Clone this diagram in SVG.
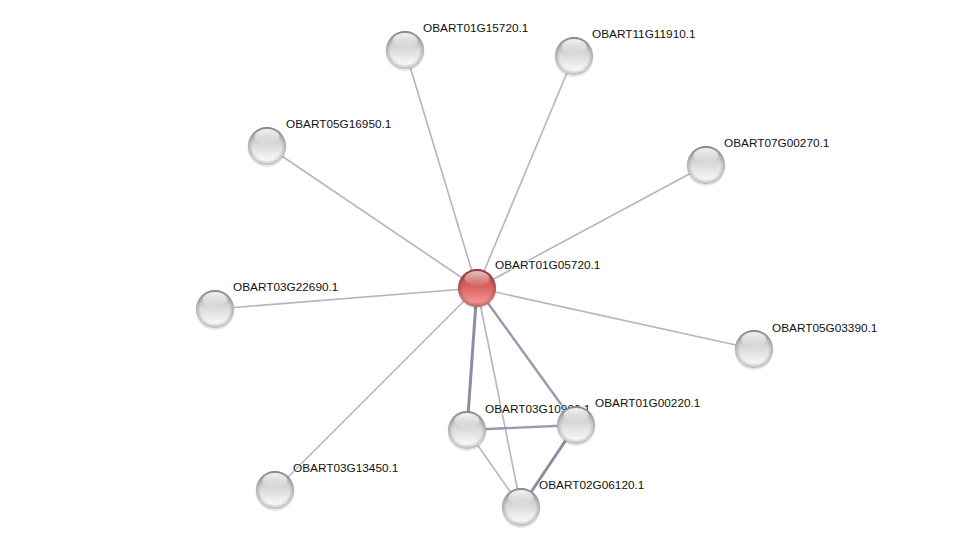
<svg xmlns="http://www.w3.org/2000/svg" width="976" height="552" viewBox="0 0 976 552">
<style>
.lbl{font-family:"Liberation Sans",Arial,sans-serif;font-size:11.8px;fill:#111;paint-order:stroke;stroke:#fff;stroke-width:2px;stroke-opacity:0.7}
.e{stroke:#b4b4c4;stroke-width:1.6;fill:none}
.m{stroke:#9a9ab0;stroke-width:2.4}
.t{stroke:#8c8ca4;stroke-width:3}
</style>
<defs>
<linearGradient id="gg" x1="0" y1="0" x2="0" y2="1">
<stop offset="0" stop-color="#a4a4a4"/>
<stop offset="0.45" stop-color="#d8d8d8"/>
<stop offset="0.85" stop-color="#f6f6f6"/>
<stop offset="1" stop-color="#e8e8e8"/>
</linearGradient>
<linearGradient id="rg" x1="0" y1="0" x2="0" y2="1">
<stop offset="0" stop-color="#b04040"/>
<stop offset="0.45" stop-color="#d86060"/>
<stop offset="0.85" stop-color="#f29090"/>
<stop offset="1" stop-color="#e27e7e"/>
</linearGradient>
<radialGradient id="rim" cx="0.5" cy="0.5" r="0.5">
<stop offset="0.75" stop-color="#000" stop-opacity="0"/>
<stop offset="1" stop-color="#000" stop-opacity="0.22"/>
</radialGradient>
<linearGradient id="hl" x1="0" y1="0" x2="0" y2="1">
<stop offset="0" stop-color="#fff" stop-opacity="0.9"/>
<stop offset="1" stop-color="#fff" stop-opacity="0.05"/>
</linearGradient>
<g id="sph">
<circle cy="1.5" r="19.5" fill="#000" opacity="0.1"/>
<circle r="19" fill="url(#gg)"/>
<circle r="19" fill="url(#rim)"/>
<ellipse cx="0" cy="-9.5" rx="12.5" ry="7.5" fill="url(#hl)"/>
</g>
<g id="sphr">
<circle cy="1.5" r="19.5" fill="#000" opacity="0.1"/>
<circle r="19" fill="url(#rg)"/>
<circle r="19" fill="url(#rim)"/>
<ellipse cx="0" cy="-9.5" rx="12.5" ry="7.5" fill="url(#hl)" opacity="0.75"/>
</g>
</defs>
<rect width="976" height="552" fill="#fff"/>
<g id="edges">
<line class="e" x1="477" y1="288" x2="405" y2="50"/>
<line class="e" x1="477" y1="288" x2="574" y2="56"/>
<line class="e" x1="477" y1="288" x2="267" y2="146"/>
<line class="e" x1="477" y1="288" x2="706" y2="165"/>
<line class="e" x1="477" y1="288" x2="215" y2="309"/>
<line class="e" x1="477" y1="288" x2="754" y2="349"/>
<line class="e" x1="477" y1="288" x2="275" y2="490"/>
<line class="e" x1="477" y1="288" x2="521" y2="507"/>
<line class="t" x1="477" y1="288" x2="467" y2="430"/>
<line class="m" x1="477" y1="288" x2="576" y2="425"/>
<line class="m" x1="467" y1="430" x2="576" y2="425"/>
<line class="e" x1="467" y1="430" x2="521" y2="507"/>
<line class="t" x1="576" y1="425" x2="521" y2="507"/>
</g>
<g id="n01G15720"><use href="#sph" x="405" y="50"/><text class="lbl" x="423" y="32">OBART01G15720.1</text></g>
<g id="n11G11910"><use href="#sph" x="574" y="56"/><text class="lbl" x="592" y="38">OBART11G11910.1</text></g>
<g id="n05G16950"><use href="#sph" x="267" y="146"/><text class="lbl" x="286" y="128">OBART05G16950.1</text></g>
<g id="n07G00270"><use href="#sph" x="706" y="165"/><text class="lbl" x="724" y="147">OBART07G00270.1</text></g>
<g id="n03G22690"><use href="#sph" x="215" y="309"/><text class="lbl" x="233" y="291">OBART03G22690.1</text></g>
<g id="n05G03390"><use href="#sph" x="754" y="349"/><text class="lbl" x="772" y="332">OBART05G03390.1</text></g>
<g id="n03G13450"><use href="#sph" x="275" y="490"/><text class="lbl" x="293" y="472">OBART03G13450.1</text></g>
<g id="n01G05720"><use href="#sphr" x="477" y="288"/><text class="lbl" x="495" y="269">OBART01G05720.1</text></g>
<g id="n03G10900"><use href="#sph" x="467" y="430"/><text class="lbl" x="485" y="413">OBART03G10900.1</text></g>
<g id="n01G00220"><use href="#sph" x="576" y="425"/><text class="lbl" x="595" y="407">OBART01G00220.1</text></g>
<g id="n02G06120"><use href="#sph" x="521" y="507"/><text class="lbl" x="539" y="489">OBART02G06120.1</text></g>
</svg>
